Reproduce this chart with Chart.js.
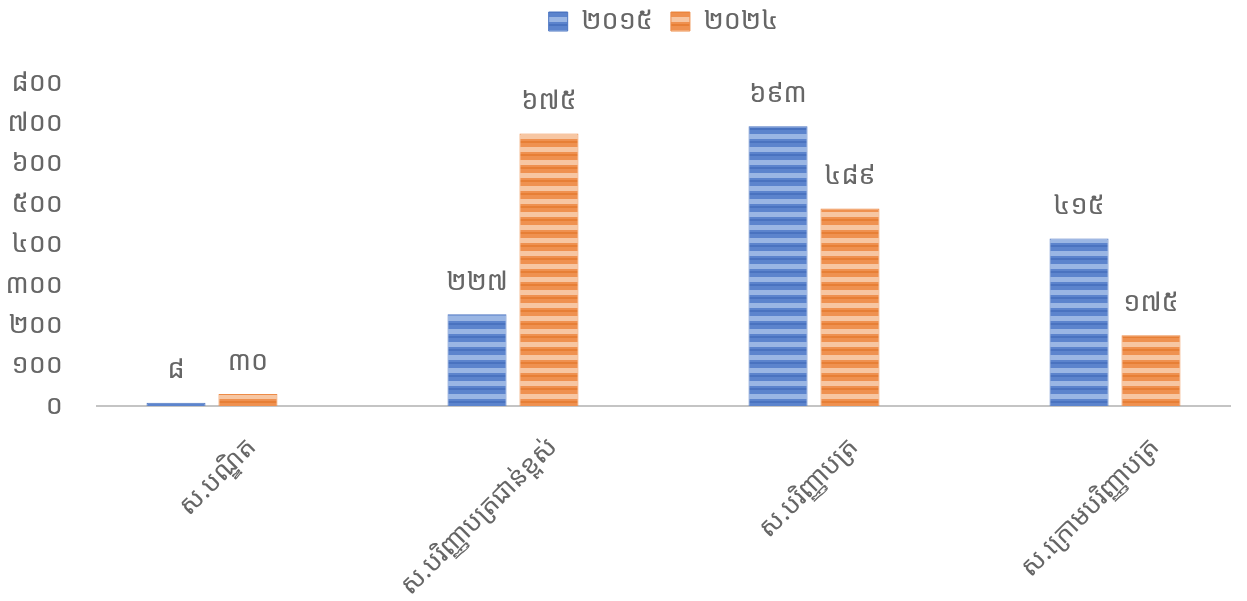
<!DOCTYPE html>
<html>
<head>
<meta charset="utf-8">
<script src="https://cdn.jsdelivr.net/npm/chart.js@4"></script>
<style>
  html, body { margin: 0; padding: 0; background: #fff; overflow: hidden; }
  #wrap { width: 1247px; height: 601px; }
</style>
</head>
<body>
<div id="wrap"><canvas id="myChart" width="1247" height="601"></canvas></div>
<script>
// chart data
const categories = ['ស.បណ្ឌិត', 'ស.បរិញ្ញាបត្រជាន់ខ្ពស់', 'ស.បរិញ្ញាបត្រ', 'ស.ក្រោមបរិញ្ញាបត្រ'];
const seriesNames = ['២០១៥', '២០២៤'];
const values2015 = [8, 227, 693, 415];
const values2024 = [30, 675, 489, 175];
const yTicks = [0, 100, 200, 300, 400, 500, 600, 700, 800];

const khmerDigits = '០១២៣៤៥៦៧៨៩';
function toKhmer(n) {
    return String(n).replace(/[0-9]/g, d => khmerDigits[d]);
}

const FONT = "'Noto Sans Khmer', 'Khmer OS', 'Khmer OS System', 'DejaVu Sans', sans-serif";
const textColor = '#666666';

// striped fill like the original bars
function stripes(base, light, dark) {
    const c = document.createElement('canvas');
    c.width = 8; c.height = 13;
    const g = c.getContext('2d');
    g.fillStyle = base; g.fillRect(0, 0, 8, 13);
    g.fillStyle = light; g.fillRect(0, 4, 8, 5);
    g.fillStyle = dark; g.fillRect(0, 11, 8, 2);
    return g.createPattern(c, 'repeat');
}

const valueLabels = {
    id: 'valueLabels',
    afterDatasetsDraw(chart) {
        const ctx = chart.ctx;
        ctx.save();
        ctx.font = '27px ' + FONT;
        ctx.fillStyle = textColor;
        ctx.textAlign = 'center';
        ctx.textBaseline = 'middle';
        chart.data.datasets.forEach((ds, di) => {
            chart.getDatasetMeta(di).data.forEach((bar, i) => {
                ctx.fillText(toKhmer(ds.data[i].y), bar.x, bar.y - 32);
            });
        });
        ctx.restore();
    }
};

// extra room between legend and plot
const legendSpace = {
    id: 'legendSpace',
    beforeInit(chart) {
        const fit = chart.legend.fit;
        chart.legend.fit = function () {
            fit.bind(chart.legend)();
            this.height += 38;
        };
    }
};

getChart();

function getChart() {
    const ctx = document.getElementById('myChart').getContext('2d');
    const blue = stripes('#5c84cd', '#9ab6e4', '#4a73c0');
    const orange = stripes('#ef9150', '#f7c6a2', '#e77f36');

    new Chart(ctx, {
        type: 'bar',
        data: {
            datasets: [{
                label: seriesNames[0],
                data: categories.map((c, i) => ({ x: i, y: values2015[i] })),
                backgroundColor: blue,
                borderColor: '#4c76c2',
                borderWidth: 1
            }, {
                label: seriesNames[1],
                data: categories.map((c, i) => ({ x: i, y: values2024[i] })),
                backgroundColor: orange,
                borderColor: '#ed8b47',
                borderWidth: 1
            }]
        },
        options: {
            responsive: false,
            animation: false,
            categoryPercentage: 0.478,
            barPercentage: 0.82,
            layout: { padding: { top: -10, right: 17, left: 0, bottom: 0 } },
            plugins: {
                legend: {
                    position: 'top',
                    fullSize: false,
                    labels: {
                        boxWidth: 19, boxHeight: 19, padding: 18,
                        color: textColor,
                        font: { family: FONT, size: 27 }
                    }
                },
                tooltip: { enabled: false }
            },
            scales: {
                x: {
                    type: 'linear',
                    offset: false,
                    min: -0.382,
                    max: 3.382,
                    afterBuildTicks: s => { s.ticks = categories.map((c, i) => ({ value: i })); },
                    afterFit: s => { s.height = 195; },
                    grid: { display: false },
                    border: { display: true, color: '#c4c4c4', width: 2 },
                    ticks: {
                        autoSkip: false,
                        minRotation: 45, maxRotation: 45,
                        labelOffset: 40,
                        padding: 18,
                        color: textColor,
                        font: { family: FONT, size: 26 },
                        callback: v => categories[v]
                    }
                },
                y: {
                    min: 0, max: 800,
                    afterBuildTicks: s => { s.ticks = yTicks.map(v => ({ value: v })); },
                    afterFit: s => { s.width = 97; },
                    grid: { display: false, drawTicks: false },
                    border: { display: false },
                    ticks: {
                        padding: 34,
                        color: textColor,
                        font: { family: FONT, size: 27 },
                        callback: v => toKhmer(v)
                    }
                }
            }
        },
        plugins: [valueLabels, legendSpace]
    });
}
</script>
</body>
</html>
